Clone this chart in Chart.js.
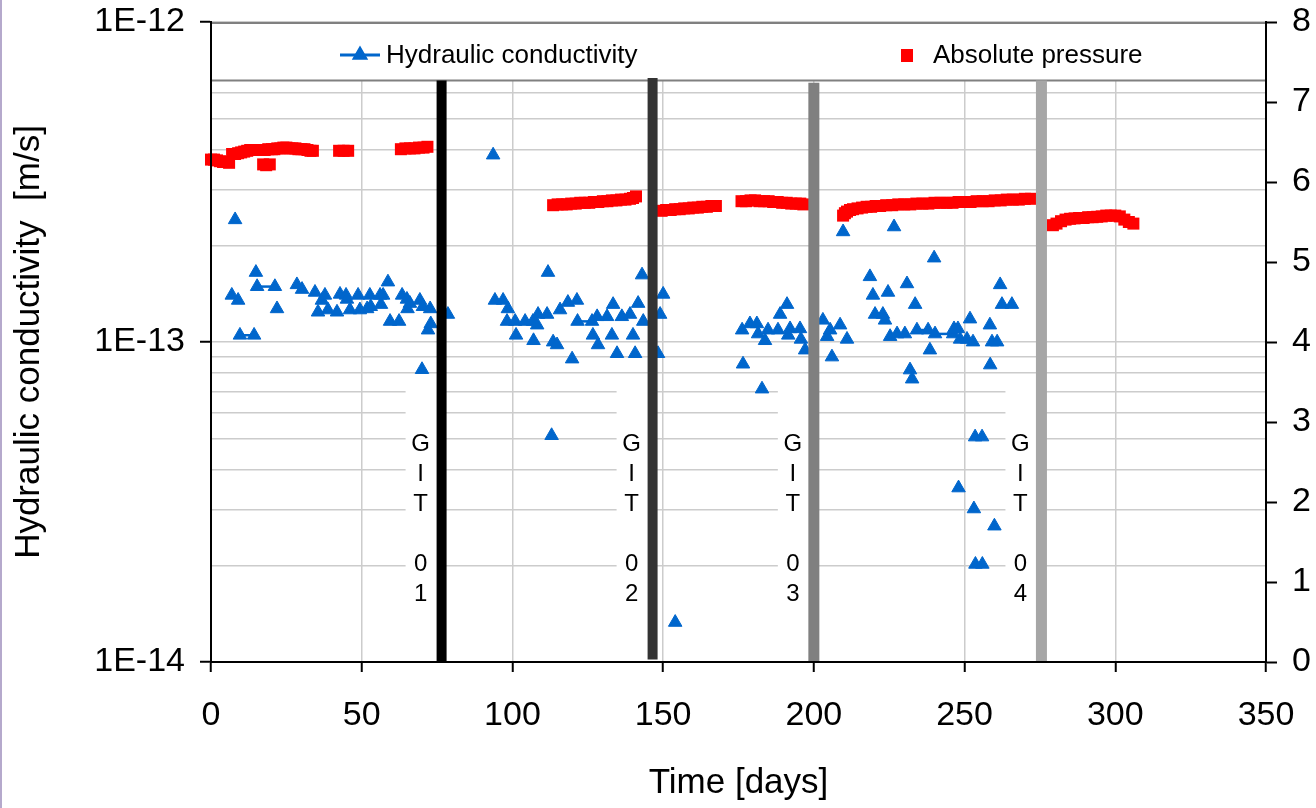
<!DOCTYPE html>
<html>
<head>
<meta charset="utf-8">
<script src="https://cdn.jsdelivr.net/npm/chart.js@4.4.1/dist/chart.umd.min.js"></script>
<style>
  html, body { margin: 0; padding: 0; background: #fff; }
  #wrap { position: relative; width: 1316px; height: 808px; overflow: hidden; }
  #edge { position: absolute; left: 0; top: 0; width: 2px; height: 808px; background: #b5a9cc; }
  canvas { display: block; }
</style>
</head>
<body>
<div id="wrap"><canvas id="chart" width="1316" height="808"></canvas><div id="edge"></div></div>
<script>
// Hydraulic conductivity readings: time [days] and value [m/s]
const kDays = [
  6.9, 8.0, 9.0, 9.6, 14.3, 14.9, 15.3, 21.2, 21.9, 28.5,
  30.2, 34.5, 35.5, 36.8, 37.8, 38.8, 41.8, 42.8, 44.8, 45.1,
  46.1, 48.8, 49.4, 51.8, 52.7, 53.0, 56.1, 56.4, 57.1, 58.7,
  59.4, 62.4, 63.4, 65.0, 65.2, 66.0, 69.3, 70.0, 70.3, 72.0,
  72.7, 72.9, 78.6, 93.6, 94.2, 96.9, 98.2, 98.5, 100.9, 101.2,
  104.2, 106.8, 107.0, 108.2, 108.5, 111.5, 111.8, 113.0, 113.5, 114.8,
  115.8, 118.4, 119.8, 121.4, 121.6, 126.4, 126.7, 128.1, 128.4, 131.4,
  133.0, 133.4, 134.7, 136.3, 139.0, 140.0, 140.7, 141.7, 143.0, 143.4,
  148.3, 149.0, 150.0, 154.0, 176.2, 176.5, 178.8, 181.1, 181.5, 182.8,
  183.8, 184.8, 188.1, 188.8, 191.1, 191.5, 192.1, 195.4, 195.7, 197.1,
  203.0, 204.4, 205.4, 206.0, 208.7, 209.7, 211.0, 218.6, 219.6, 220.3,
  222.9, 223.6, 224.6, 225.3, 226.6, 227.6, 230.2, 230.9, 231.9, 232.6,
  233.6, 234.2, 237.9, 238.5, 239.9, 240.2, 246.2, 246.5, 247.8, 248.0,
  248.5, 250.8, 251.8, 252.8, 253.1, 253.5, 253.6, 255.8, 255.9, 258.4,
  258.5, 259.1, 259.9, 260.8, 261.8, 262.4, 265.7
];
const kValues = [
  1.40e-13, 2.41e-13, 1.35e-13, 1.05e-13, 1.05e-13, 1.65e-13, 1.49e-13, 1.49e-13, 1.27e-13, 1.51e-13,
  1.46e-13, 1.43e-13, 1.24e-13, 1.35e-13, 1.40e-13, 1.26e-13, 1.24e-13, 1.41e-13, 1.40e-13, 1.36e-13,
  1.26e-13, 1.40e-13, 1.26e-13, 1.27e-13, 1.40e-13, 1.29e-13, 1.40e-13, 1.31e-13, 1.40e-13, 1.54e-13,
  1.16e-13, 1.16e-13, 1.40e-13, 1.36e-13, 1.27e-13, 1.32e-13, 1.35e-13, 0.82e-13, 1.29e-13, 1.09e-13,
  1.27e-13, 1.14e-13, 1.22e-13, 3.84e-13, 1.35e-13, 1.35e-13, 1.16e-13, 1.27e-13, 1.16e-13, 1.05e-13,
  1.16e-13, 1.16e-13, 1.01e-13, 1.13e-13, 1.22e-13, 1.22e-13, 1.65e-13, 0.51e-13, 1.00e-13, 0.98e-13,
  1.26e-13, 1.33e-13, 0.885e-13, 1.35e-13, 1.16e-13, 1.16e-13, 1.05e-13, 1.20e-13, 0.98e-13, 1.20e-13,
  1.05e-13, 1.31e-13, 0.92e-13, 1.20e-13, 1.22e-13, 1.05e-13, 0.92e-13, 1.32e-13, 1.62e-13, 1.16e-13,
  0.92e-13, 1.22e-13, 1.41e-13, 0.133e-13, 1.09e-13, 0.853e-13, 1.14e-13, 1.14e-13, 1.06e-13, 0.713e-13,
  1.01e-13, 1.09e-13, 1.09e-13, 1.22e-13, 1.31e-13, 1.05e-13, 1.10e-13, 1.10e-13, 1.02e-13, 0.944e-13,
  1.17e-13, 1.04e-13, 1.09e-13, 0.898e-13, 1.13e-13, 2.21e-13, 1.02e-13, 1.60e-13, 1.40e-13, 1.22e-13,
  1.22e-13, 1.17e-13, 1.43e-13, 1.04e-13, 2.29e-13, 1.06e-13, 1.06e-13, 1.52e-13, 0.818e-13, 0.766e-13,
  1.31e-13, 1.09e-13, 1.09e-13, 0.944e-13, 1.83e-13, 1.06e-13, 1.06e-13, 1.10e-13, 1.10e-13, 0.350e-13,
  1.02e-13, 1.02e-13, 1.18e-13, 1.00e-13, 0.301e-13, 0.505e-13, 0.202e-13, 0.505e-13, 0.202e-13, 1.13e-13,
  0.848e-13, 1.00e-13, 0.266e-13, 1.00e-13, 1.51e-13, 1.31e-13, 1.31e-13
];
// readings joined by a line to the next reading (index of the first one)
const kJoined = [3, 6, 64, 121, 125];

// Absolute pressure readings: time [days] and value
const pDays = [
  0, 1, 2, 3, 4, 5, 6, 7, 8, 9, 10, 11, 12, 13, 14, 15, 16,
  17.3, 17.8, 18.3, 19, 19.5, 20.2,
  21, 22, 23, 24, 25, 26, 27, 28, 29, 30, 31, 32, 33, 33.8,
  42.5, 44, 45.5,
  63, 64.5, 66, 67.5, 69, 70.5, 71.8,
  113.5, 115, 116.5, 118, 119.5, 121, 122.5, 124, 125.5, 127,
  128.5, 130, 131.5, 133, 134.5, 136, 137.5, 139, 140, 141,
  149.5, 151, 152.5, 154, 155.5, 157, 158.5, 160, 161.5, 163, 164.5, 166, 167.5,
  176, 177.5, 179, 180.5, 182, 183.5, 185, 186.5, 188, 189.5, 191, 192.5, 194, 195.5, 196.5,
  209.7, 210.3, 211, 212, 213, 214.5, 216, 217.5, 219, 220.5, 222, 224,
  226, 228, 230, 232, 234, 236, 238, 240, 242, 244, 246, 248,
  250, 252, 254, 256, 258, 260, 262, 264, 266, 268, 270, 272,
  279.3, 280.5, 282, 283.5, 285, 286.5, 288, 289.5, 291, 292.5,
  294, 295.5, 297, 298.5, 300, 301.5, 303, 304.5, 306
];
const pValues = [
  6.28, 6.28, 6.27, 6.26, 6.25, 6.25, 6.24, 6.35, 6.35, 6.36, 6.37, 6.38, 6.39, 6.40, 6.40, 6.40, 6.40,
  6.22, 6.40, 6.21, 6.41, 6.22, 6.41,
  6.41, 6.42, 6.42, 6.43, 6.43, 6.42, 6.42, 6.42, 6.41, 6.41, 6.41, 6.40, 6.39, 6.39,
  6.39, 6.39, 6.39,
  6.41, 6.42, 6.42, 6.42, 6.43, 6.43, 6.44,
  5.71, 5.72, 5.72, 5.72, 5.73, 5.73, 5.74, 5.74, 5.74, 5.75,
  5.75, 5.76, 5.76, 5.77, 5.77, 5.78, 5.78, 5.79, 5.80, 5.82,
  5.64, 5.65, 5.65, 5.66, 5.66, 5.67, 5.67, 5.68, 5.68, 5.69, 5.69, 5.70, 5.70,
  5.76, 5.76, 5.77, 5.77, 5.76, 5.76, 5.76, 5.75, 5.75, 5.74, 5.74, 5.73, 5.73, 5.73, 5.72,
  5.58, 5.61, 5.63, 5.65, 5.66, 5.67, 5.68, 5.69, 5.69, 5.70, 5.70, 5.71,
  5.71, 5.72, 5.72, 5.72, 5.73, 5.73, 5.73, 5.74, 5.74, 5.74, 5.74, 5.75,
  5.75, 5.75, 5.76, 5.76, 5.76, 5.77, 5.77, 5.78, 5.78, 5.78, 5.79, 5.79,
  5.46, 5.48, 5.51, 5.53, 5.54, 5.545, 5.55, 5.55, 5.56, 5.56,
  5.565, 5.57, 5.58, 5.58, 5.58, 5.57, 5.53, 5.50, 5.48
];

// Gas injection tests: name, day, and extent of the marker bar on the right axis
const gitNames = ['GIT 01', 'GIT 02', 'GIT 03', 'GIT 04'];
const gitDays = [76.5, 146.5, 200, 275.5];
const gitLow = [0, 0.03, 0, 0];
const gitHigh = [7.27, 7.30, 7.24, 7.27];

// Axis ranges and tick steps
const dayTicks = { min: 0, max: 350, step: 50 };
const kRange = { min: 1e-14, max: 1e-12 };
const pRange = { min: 0, max: 8, step: 1 };

// ---- styles ----
const FONT = "'Liberation Sans', Arial, Helvetica, sans-serif";
const BLUE = '#0066cc';
const RED = '#ff0000';
const GRID = '#cccccc';
const gitColors = ['#000000', '#333333', '#808080', '#a6a6a6'];
const gitWidths = [10, 10, 11, 11];

Chart.defaults.font.family = FONT;
Chart.defaults.color = '#000';

const isDecade = v => Math.abs(Math.log10(v) - Math.round(Math.log10(v))) < 1e-9;

// log grid: 1..9 in each decade
const kGrid = [];
for (let e = Math.round(Math.log10(kRange.min)); e < Math.round(Math.log10(kRange.max)); e++) {
  for (let m = 1; m < 10; m++) kGrid.push(m * Math.pow(10, e));
}
kGrid.push(kRange.max);

const kPoints = kDays.map((d, i) => ({ x: d, y: kValues[i] }));
const pPoints = pDays.map((d, i) => ({ x: d, y: pValues[i] }));

const datasets = [
  {
    label: 'Hydraulic conductivity',
    data: kPoints,
    yAxisID: 'y',
    showLine: true,
    tension: 0,
    borderColor: BLUE,
    backgroundColor: BLUE,
    borderWidth: 2.5,
    pointStyle: 'triangle',
    pointRadius: 7.8,
    pointBorderWidth: 1,
    pointBackgroundColor: BLUE,
    pointBorderColor: BLUE,
    clip: false,
    order: 1,
    segment: {
      borderColor: c => kJoined.includes(c.p0DataIndex) ? BLUE : 'rgba(0,0,0,0)'
    }
  },
  {
    label: 'Absolute pressure',
    data: pPoints,
    yAxisID: 'y2',
    showLine: false,
    borderColor: RED,
    backgroundColor: RED,
    pointStyle: 'rect',
    pointRadius: 8.5,
    pointBorderWidth: 0,
    pointBackgroundColor: RED,
    clip: false,
    order: 2
  }
];
gitDays.forEach((d, i) => {
  datasets.push({
    label: gitNames[i],
    data: [{ x: d, y: gitLow[i] }, { x: d, y: gitHigh[i] }],
    yAxisID: 'y2',
    borderColor: gitColors[i],
    backgroundColor: gitColors[i],
    borderWidth: gitWidths[i],
    borderCapStyle: 'butt',
    pointRadius: 0,
    order: 0
  });
});

// Legend panel across the top of the plot and the white caption strips of the GIT bars
const annotations = {
  id: 'annotations',
  beforeDatasetsDraw(chart) {
    const { ctx, chartArea: a, scales } = chart;
    const sx = scales.x, sy = scales.y;
    ctx.save();

    // GIT captions, letters stacked vertically on a white strip left of each bar
    const stripTop = sy.getPixelForValue(7.6e-14);
    const stripBottom = sy.getPixelForValue(1.28e-14);
    ctx.font = '24px ' + FONT;
    ctx.textAlign = 'center';
    ctx.textBaseline = 'middle';
    gitDays.forEach((d, i) => {
      const px = sx.getPixelForValue(d);
      ctx.fillStyle = '#fff';
      ctx.fillRect(px - 36, stripTop, 32, stripBottom - stripTop);
      ctx.fillStyle = '#000';
      gitNames[i].split('').forEach((ch, j) => {
        if (ch.trim()) ctx.fillText(ch, px - 21, stripTop + 64 + j * 30);
      });
    });

    // legend panel
    const panelH = 59;
    ctx.fillStyle = '#fff';
    ctx.fillRect(a.left, a.top, a.right - a.left, panelH);
    ctx.strokeStyle = '#808080';
    ctx.lineWidth = 2;
    ctx.beginPath();
    ctx.moveTo(a.left, a.top + 1); ctx.lineTo(a.right, a.top + 1);
    ctx.moveTo(a.left, a.top + panelH - 0.5); ctx.lineTo(a.right, a.top + panelH - 0.5);
    ctx.stroke();
    ctx.strokeStyle = '#444';
    ctx.lineWidth = 1;
    ctx.beginPath();
    ctx.moveTo(a.right - 0.5, a.top); ctx.lineTo(a.right - 0.5, a.top + panelH);
    ctx.stroke();

    const cy = a.top + 34;
    const k = chart.data.datasets[0];
    const p = chart.data.datasets[1];
    ctx.font = '26px ' + FONT;
    ctx.textAlign = 'left';
    ctx.textBaseline = 'middle';

    // conductivity item: line with triangle marker
    const x1 = a.left + 129;
    ctx.strokeStyle = k.borderColor;
    ctx.lineWidth = 3;
    ctx.beginPath(); ctx.moveTo(x1, cy - 1); ctx.lineTo(x1 + 40, cy - 1); ctx.stroke();
    ctx.fillStyle = k.backgroundColor;
    ctx.strokeStyle = k.borderColor;
    Chart.helpers.drawPoint(ctx, { pointStyle: 'triangle', radius: 6.5, rotation: 0, borderWidth: 1 }, x1 + 20, cy - 1);
    ctx.fillStyle = '#000';
    ctx.fillText(k.label, x1 + 46, cy);

    // pressure item: square marker
    const x2 = a.left + 696;
    ctx.fillStyle = p.backgroundColor;
    ctx.fillRect(x2 - 6, cy - 7, 12, 13);
    ctx.fillStyle = '#000';
    ctx.fillText(p.label, x2 + 26, cy);

    ctx.restore();
  }
};

// vertical axes: keep the plot edge where the layout padding puts it
const noVPad = s => { s.paddingTop = 0; s.paddingBottom = 0; };

new Chart(document.getElementById('chart'), {
  type: 'line',
  data: { datasets },
  plugins: [annotations],
  options: {
    responsive: false,
    animation: false,
    devicePixelRatio: 1,
    events: [],
    layout: { padding: { top: 22, left: 0, right: 0, bottom: 0 } },
    plugins: { legend: { display: false }, tooltip: { enabled: false } },
    scales: {
      x: {
        type: 'linear',
        position: 'bottom',
        min: dayTicks.min,
        max: dayTicks.max,
        ticks: { stepSize: dayTicks.step, font: { size: 34 }, padding: 23, maxRotation: 0, autoSkip: false },
        grid: { color: GRID, lineWidth: 1.5, tickLength: 10, tickColor: '#000', tickWidth: 2 },
        border: { color: '#000', width: 2, z: 1 },
        title: { display: true, text: 'Time [days]', font: { size: 35 }, padding: { top: 4, bottom: 4 } },
        afterFit: s => { s.height = 146; s.paddingLeft = 0; s.paddingRight = 0; }
      },
      y: {
        type: 'logarithmic',
        position: 'left',
        min: kRange.min,
        max: kRange.max,
        afterBuildTicks: s => { s.ticks = kGrid.map(v => ({ value: v })); },
        ticks: {
          autoSkip: false,
          font: { size: 34 },
          padding: 15,
          callback: v => isDecade(v) ? '1E' + Math.round(Math.log10(v)) : ''
        },
        grid: {
          color: GRID,
          lineWidth: 1.5,
          tickLength: 11,
          tickWidth: 2,
          tickColor: c => (c.tick && isDecade(c.tick.value)) ? '#000' : 'rgba(0,0,0,0)'
        },
        border: { color: '#000', width: 2, z: 1 },
        title: { display: true, text: 'Hydraulic conductivity  [m/s]', font: { size: 35 }, padding: { top: 8, bottom: 0 } },
        afterFit: s => { s.width = 211; noVPad(s); }
      },
      y2: {
        type: 'linear',
        position: 'right',
        min: pRange.min,
        max: pRange.max,
        ticks: { stepSize: pRange.step, font: { size: 34 }, padding: 15 },
        grid: { drawOnChartArea: false, tickLength: 11, tickColor: '#000', tickWidth: 2 },
        border: { color: '#000', width: 2, z: 1 },
        afterFit: s => { s.width = 50; noVPad(s); }
      }
    }
  }
});
</script>
</body>
</html>
